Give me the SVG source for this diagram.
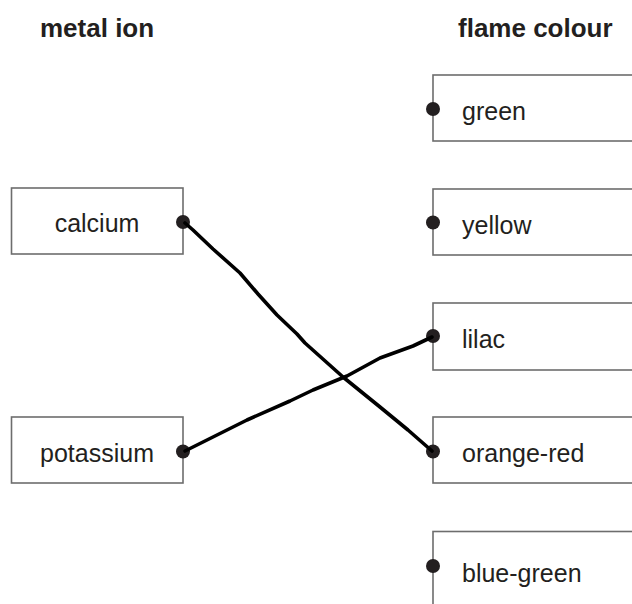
<svg xmlns="http://www.w3.org/2000/svg" width="632" height="604" viewBox="0 0 632 604">
<style>
.box{fill:#fff;stroke:#6d6d6d;stroke-width:1.6}
.lbl{font-family:"Liberation Sans",Arial,sans-serif;font-size:25px;fill:#231f20}
.hdr{font-family:"Liberation Sans",Arial,sans-serif;font-size:26px;font-weight:bold;fill:#231f20}
.dot{fill:#231f20}
.wire{fill:none;stroke:#000;stroke-width:3.6;stroke-linecap:round;stroke-linejoin:round}
</style>
<rect width="632" height="604" fill="#fff"/>
<text class="hdr" x="40" y="37">metal ion</text>
<text class="hdr" x="458" y="37">flame colour</text>
<g id="calcium">
<rect class="box" x="11.5" y="188" width="171.5" height="66"/>
<text class="lbl" x="97" y="232" text-anchor="middle">calcium</text>
<circle class="dot" cx="183" cy="222" r="7"/>
</g>
<g id="potassium">
<rect class="box" x="11.5" y="417" width="171.5" height="66"/>
<text class="lbl" x="97" y="462" text-anchor="middle">potassium</text>
<circle class="dot" cx="183" cy="451.5" r="7"/>
</g>
<g id="green">
<rect class="box" x="433" y="75" width="220" height="66"/>
<text class="lbl" x="462" y="120">green</text>
<circle class="dot" cx="433" cy="109" r="7"/>
</g>
<g id="yellow">
<rect class="box" x="433" y="189" width="220" height="66"/>
<text class="lbl" x="462" y="234">yellow</text>
<circle class="dot" cx="433" cy="222.5" r="7"/>
</g>
<g id="lilac">
<rect class="box" x="433" y="303" width="220" height="67"/>
<text class="lbl" x="462" y="348">lilac</text>
<circle class="dot" cx="433" cy="336" r="7"/>
</g>
<g id="orange-red">
<rect class="box" x="433" y="417" width="220" height="66"/>
<text class="lbl" x="462" y="462">orange-red</text>
<circle class="dot" cx="433" cy="451.5" r="7"/>
</g>
<g id="blue-green">
<rect class="box" x="433" y="531.5" width="220" height="90"/>
<text class="lbl" x="462" y="582">blue-green</text>
<circle class="dot" cx="433" cy="566" r="7"/>
</g>
<g id="connectors">
<path class="wire" d="M185 223 L193 230 L213 249 L240 273 L258 294 L277 315 L297 334 L305 343 L343 377 L380 407 L408 430 L432 451"/>
<path class="wire" d="M185 451 L213 437 L247 420 L290 401 L313 390 L347 376 L380 358 L413 346 L432 337"/>
</g>
</svg>
